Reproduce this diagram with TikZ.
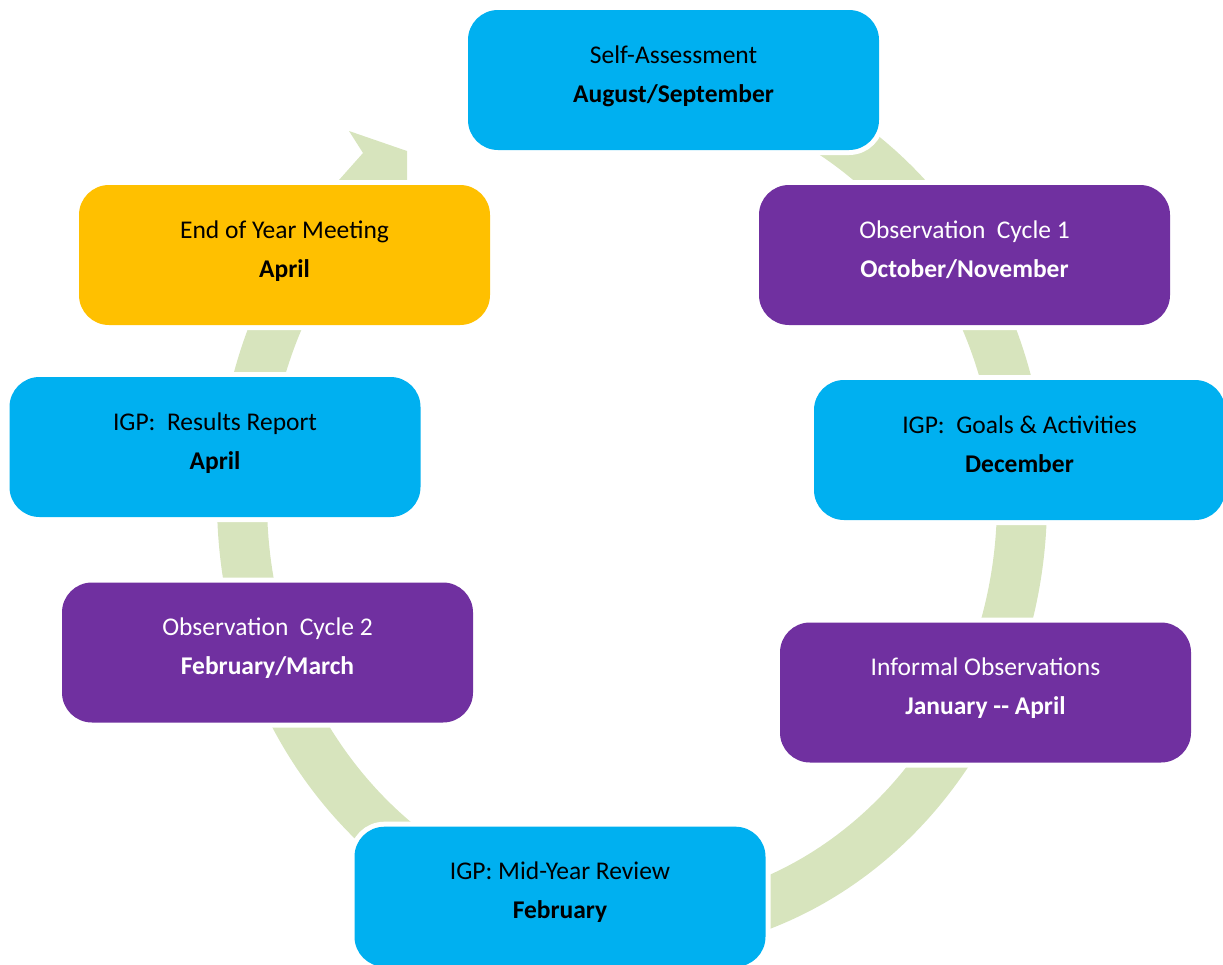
\documentclass[tikz,border=0pt]{standalone}
\usepackage{fontspec}
\setmainfont{Carlito}
\definecolor{cyanbox}{HTML}{00B0F0}
\definecolor{purplebox}{HTML}{7030A0}
\definecolor{goldbox}{HTML}{FFC000}
\definecolor{bandgreen}{HTML}{D7E4BD}
\newcommand{\lineone}[1]{\rule{0pt}{19pt}#1}
\newcommand{\linetwo}[1]{\textbf{#1}\rule[-7pt]{0pt}{7pt}}
\begin{document}
\frenchspacing
\begin{tikzpicture}[x=1pt,y=-1pt,
  box/.style={rectangle, rounded corners=30pt, minimum width=411pt, minimum height=140pt,
              inner sep=0pt, preaction={draw=white, line width=10pt}},
  cyanstyle/.style={box, fill=cyanbox},
  purplestyle/.style={box, fill=purplebox},
  goldstyle/.style={box, fill=goldbox},
  txt/.style={align=center, inner sep=0pt, font=\fontsize{25.5}{39}\selectfont},
  band/.style={draw=bandgreen, line width=50pt}]
\useasboundingbox (0,0) rectangle (1223,964);

% ring band
\begin{scope}
  \clip (0,180) -- (480,180) -- (480,0) -- (1223,0) -- (1223,964) -- (0,964) -- cycle;
  \draw[band] (632,501) ellipse [x radius=390pt, y radius=428.5pt];
\end{scope}
\fill[bandgreen] (349,131) -- (407,151) -- (407,180) -- (339,180) -- (363,153) -- cycle;

% boxes
\node[cyanstyle]   (b1) at (673.5,80)   {};
\node[purplestyle] (b2) at (964.5,255)  {};
\node[cyanstyle]   (b3) at (1019.5,450) {};
\node[purplestyle] (b4) at (985.5,692.5){};
\node[cyanstyle]   (b5) at (560,896.7)  {};
\node[purplestyle] (b6) at (267.5,652.5){};
\node[cyanstyle]   (b7) at (215,447)    {};
\node[goldstyle]   (b8) at (284.5,255)  {};

% texts
\node[txt, text=black] (t1) at ([yshift=3.5pt]b1.center) {\lineone{Self-Assessment}\\\linetwo{August/September}};
\node[txt, text=white] (t2) at ([yshift=3.5pt]b2.center) {\lineone{Observation\ \ Cycle 1}\\\linetwo{October/November}};
\node[txt, text=black] (t3) at ([yshift=3.5pt]b3.center) {\lineone{IGP:\ \ Goals \& Activities}\\\linetwo{December}};
\node[txt, text=white] (t4) at ([yshift=3.5pt]b4.center) {\lineone{Informal Observations}\\\linetwo{January {-}{-} April}};
\node[txt, text=black] (t5) at ([yshift=3.5pt]b5.center) {\lineone{IGP: Mid-Year Review}\\\linetwo{February}};
\node[txt, text=white] (t6) at ([yshift=3.5pt]b6.center) {\lineone{Observation\ \ Cycle 2}\\\linetwo{February/March}};
\node[txt, text=black] (t7) at ([yshift=3.5pt]b7.center) {\lineone{IGP:\ \ Results Report}\\\linetwo{April}};
\node[txt, text=black] (t8) at ([yshift=3.5pt]b8.center) {\lineone{End of Year Meeting}\\\linetwo{April}};
\end{tikzpicture}
\end{document}
